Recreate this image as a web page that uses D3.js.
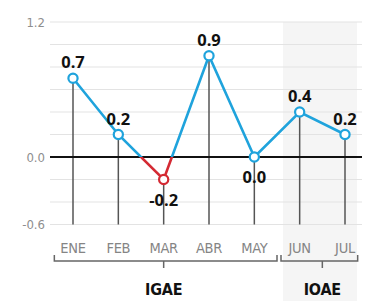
<!DOCTYPE html>
<html>
<head>
<meta charset="utf-8">
<script src="https://d3js.org/d3.v7.min.js"></script>
<style>
  body { margin: 0; background: #fff; }
  svg { display: block; }
  .ytick { font-family: "DejaVu Sans Condensed", sans-serif; font-size: 13px; fill: #8e8e8e; }
  .month { font-family: "DejaVu Sans Condensed", sans-serif; font-size: 14.5px; fill: #858585; letter-spacing: -0.3px; }
  .val { font-family: "Open Sans", "DejaVu Sans", sans-serif; font-size: 16.5px; font-weight: 700; fill: #111; }
  .grp { font-family: "DejaVu Sans Condensed", sans-serif; font-size: 16px; font-weight: bold; fill: #111; letter-spacing: -0.2px; }
</style>
</head>
<body>
<div class="chart"></div>
<script>
    const months = ["ENE", "FEB", "MAR", "ABR", "MAY", "JUN", "JUL"];
    const values = [0.7, 0.2, -0.2, 0.9, 0.0, 0.4, 0.2];
    const yTicks = [1.2, 0.0, -0.6];
    const groupNames = ["IGAE", "IOAE"];
    const groupFirst = ["ENE", "JUN"];
    const groupLast = ["MAY", "JUL"];

    const width = 374, height = 301;
    const plotLeft = 50, plotRight = 362, plotTop = 22, plotBottom = 224.5;

    const data = months.map((m, i) => ({ month: m, value: values[i] }));

    const svg = d3.select(".chart").append("svg")
        .attr("width", width)
        .attr("height", height);

    const x = d3.scalePoint().domain(months).range([73, 345]);
    const y = d3.scaleLinear().domain([-0.6, 1.2]).range([plotBottom, plotTop]);

    // shaded IOAE area
    const shadeX0 = (x("MAY") + x("JUN")) / 2 + 6;
    svg.append("rect")
        .attr("x", shadeX0)
        .attr("y", plotTop)
        .attr("width", 357 - shadeX0)
        .attr("height", height - plotTop)
        .attr("fill", "#f5f5f5");

    // gridlines every 0.2
    svg.append("g")
        .selectAll("line")
        .data(d3.range(-0.6, 1.21, 0.2))
        .join("line")
        .attr("x1", plotLeft).attr("x2", plotRight)
        .attr("y1", d => y(d)).attr("y2", d => y(d))
        .attr("stroke", "#e3e3e3")
        .attr("stroke-width", 1.2);

    // y tick labels
    svg.append("g")
        .selectAll("text")
        .data(yTicks)
        .join("text")
        .attr("class", "ytick")
        .attr("x", 45)
        .attr("y", d => y(d))
        .attr("dy", "0.35em")
        .attr("text-anchor", "end")
        .text(d => d3.format(".1f")(d).replace("−", "-"));

    // drop lines
    svg.append("g")
        .selectAll("line")
        .data(data)
        .join("line")
        .attr("x1", d => x(d.month)).attr("x2", d => x(d.month))
        .attr("y1", d => y(d.value)).attr("y2", plotBottom)
        .attr("stroke", "#555")
        .attr("stroke-width", 1.5);

    // zero line
    svg.append("line")
        .attr("x1", plotLeft).attr("x2", plotRight)
        .attr("y1", y(0)).attr("y2", y(0))
        .attr("stroke", "#111")
        .attr("stroke-width", 2.2);

    // clip above / below zero
    const defs = svg.append("defs");
    defs.append("clipPath").attr("id", "above")
        .append("rect").attr("x", 0).attr("y", 0).attr("width", width).attr("height", y(0));
    defs.append("clipPath").attr("id", "below")
        .append("rect").attr("x", 0).attr("y", y(0)).attr("width", width).attr("height", height - y(0));

    const line = d3.line().x(d => x(d.month)).y(d => y(d.value));

    svg.append("path")
        .datum(data)
        .attr("d", line)
        .attr("fill", "none")
        .attr("stroke", "#1fa3dc")
        .attr("stroke-width", 2.6)
        .attr("clip-path", "url(#above)");

    svg.append("path")
        .datum(data)
        .attr("d", line)
        .attr("fill", "none")
        .attr("stroke", "#d42a33")
        .attr("stroke-width", 2.6)
        .attr("clip-path", "url(#below)");

    // markers
    svg.append("g")
        .selectAll("circle")
        .data(data)
        .join("circle")
        .attr("cx", d => x(d.month))
        .attr("cy", d => y(d.value))
        .attr("r", 4.6)
        .attr("fill", "#fff")
        .attr("stroke", d => d.value < 0 ? "#d42a33" : "#1fa3dc")
        .attr("stroke-width", 2.2);

    // value labels
    svg.append("g")
        .selectAll("text")
        .data(data)
        .join("text")
        .attr("class", "val")
        .attr("x", d => x(d.month))
        .attr("y", d => d.value > 0 ? y(d.value) - 10 : y(d.value) + 26)
        .attr("text-anchor", "middle")
        .text(d => d3.format(".1f")(d.value).replace("−", "-"));

    // month labels
    svg.append("g")
        .selectAll("text")
        .data(months)
        .join("text")
        .attr("class", "month")
        .attr("x", d => x(d))
        .attr("y", 253)
        .attr("text-anchor", "middle")
        .text(d => d);

    // group brackets
    const step = x.step();
    groupNames.forEach((g, i) => {
        const x0 = x(groupFirst[i]) - step / 2 + 4;
        const x1 = x(groupLast[i]) + step / 2 - (i === 0 ? 0 : 10);
        const mid = i === 0 ? x("MAR") : (x("JUN") + x("JUL")) / 2;
        const by = 261;
        svg.append("path")
            .attr("d", `M${x0},${by - 6} L${x0},${by} L${x1},${by} L${x1},${by - 6} M${mid},${by} L${mid},${by + 7}`)
            .attr("fill", "none")
            .attr("stroke", "#666")
            .attr("stroke-width", 1.5);
        svg.append("text")
            .attr("class", "grp")
            .attr("x", mid)
            .attr("y", 295)
            .attr("text-anchor", "middle")
            .text(g);
    });
</script>
</body>
</html>
